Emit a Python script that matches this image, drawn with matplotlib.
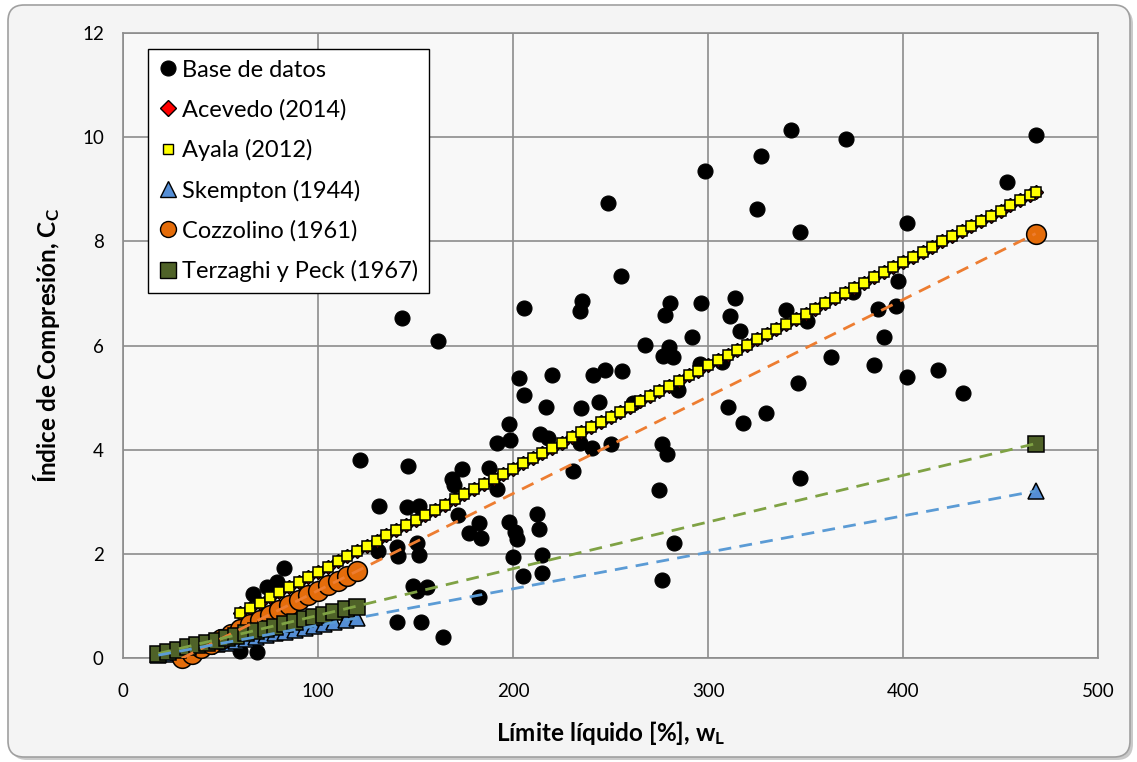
import matplotlib
matplotlib.use("Agg")
import matplotlib.pyplot as plt
from matplotlib.patches import FancyBboxPatch
from matplotlib.lines import Line2D
from matplotlib.transforms import IdentityTransform

plt.rcParams['font.family'] = ['Lato', 'DejaVu Sans']
plt.rcParams['mathtext.fontset'] = 'custom'
plt.rcParams['mathtext.rm'] = 'Lato'
plt.rcParams['mathtext.it'] = 'Lato:italic'
plt.rcParams['mathtext.bf'] = 'Lato:bold'

# ---------------- data ----------------
db_wl = [342.3, 370.5, 327.0, 298.2, 325.1, 347.0, 402.1, 468.4, 453.2, 248.7, 255.1,
         313.8, 296.4, 311.1, 339.8, 316.6, 350.5, 397.3, 387.0, 396.6, 390.3, 374.4,
         363.1, 385.1, 402.1, 417.8, 346.2, 430.5, 310.1, 317.9, 329.9, 347.0, 306.9, 295.7,
         276.1, 279.0, 274.9, 282.3, 276.3, 280.4, 277.9, 291.8, 267.4, 277.0, 282.0, 280.0, 284.6,
         205.8, 235.4, 234.4, 142.9, 161.5,
         202.8, 219.8, 241.0, 247.2, 255.7, 205.8, 216.9, 234.7, 244.1, 261.5,
         197.8, 191.8, 198.3, 214.0, 218.0, 234.2, 240.2, 250.0,
         230.8, 121.4, 145.8, 173.8, 187.7, 169.7, 168.5, 191.5,
         131.1, 145.6, 151.8, 171.8, 182.4, 177.4, 183.3, 197.8, 200.9, 202.1, 212.0, 213.3,
         130.5, 140.5, 141.0, 150.8, 151.8, 199.7, 214.9, 204.8, 214.9,
         148.5, 155.9, 150.5, 182.6, 140.2, 152.5, 163.8,
         82.6, 66.4, 73.5, 78.7, 59.8, 68.7]
db_cc = [10.14, 9.96, 9.64, 9.36, 8.62, 8.19, 8.35, 10.05, 9.15, 8.74, 7.33,
         6.91, 6.82, 6.56, 6.68, 6.28, 6.47, 7.25, 6.70, 6.77, 6.17, 7.02,
         5.78, 5.62, 5.40, 5.53, 5.28, 5.09, 4.82, 4.51, 4.70, 3.46, 5.69, 5.64,
         4.12, 3.92, 3.23, 2.21, 1.51, 6.82, 6.59, 6.16, 6.01, 5.80, 5.78, 5.98, 5.14,
         6.73, 6.86, 6.66, 6.53, 6.08,
         5.37, 5.43, 5.44, 5.54, 5.52, 5.06, 4.82, 4.81, 4.91, 4.89,
         4.49, 4.13, 4.19, 4.30, 4.22, 4.13, 4.03, 4.11,
         3.60, 3.80, 3.69, 3.63, 3.66, 3.32, 3.45, 3.24,
         2.93, 2.91, 2.93, 2.75, 2.60, 2.40, 2.31, 2.62, 2.43, 2.29, 2.76, 2.49,
         2.06, 2.14, 1.96, 2.22, 1.99, 1.94, 1.99, 1.58, 1.64,
         1.38, 1.36, 1.29, 1.18, 0.69, 0.70, 0.40,
         1.74, 1.23, 1.37, 1.47, 0.14, 0.13]

corr_wl = [60, 65, 70, 75, 80, 85, 90, 95, 100, 105, 110, 115, 120, 125, 130, 135, 140,
           145, 150, 155, 160, 165, 170, 175, 180, 185, 190, 195, 200, 205, 210, 215, 220,
           225, 230, 235, 240, 245, 250, 255, 260, 265, 270, 275, 280, 285, 290, 295, 300,
           305, 310, 315, 320, 325, 330, 335, 340, 345, 350, 355, 360, 365, 370, 375, 380,
           385, 390, 395, 400, 405, 410, 415, 420, 425, 430, 435, 440, 445, 450, 455, 460,
           465, 468]
ayala_cc = [0.87, 0.97, 1.07, 1.17, 1.27, 1.37, 1.47, 1.56, 1.66, 1.76, 1.86, 1.96, 2.06,
            2.16, 2.26, 2.36, 2.46, 2.55, 2.65, 2.75, 2.85, 2.95, 3.05, 3.15, 3.25, 3.35,
            3.45, 3.54, 3.64, 3.74, 3.84, 3.94, 4.04, 4.14, 4.24, 4.34, 4.44, 4.53, 4.63,
            4.73, 4.83, 4.93, 5.03, 5.13, 5.23, 5.33, 5.43, 5.52, 5.62, 5.72, 5.82, 5.92,
            6.02, 6.12, 6.22, 6.32, 6.42, 6.51, 6.61, 6.71, 6.81, 6.91, 7.01, 7.11, 7.21,
            7.31, 7.41, 7.50, 7.60, 7.70, 7.80, 7.90, 8.00, 8.10, 8.20, 8.30, 8.40, 8.49,
            8.59, 8.69, 8.79, 8.89, 8.95]
acevedo_cc = [0.87, 0.97, 1.07, 1.17, 1.27, 1.37, 1.47, 1.56, 1.66, 1.76, 1.86, 1.96, 2.06,
              2.16, 2.26, 2.36, 2.46, 2.55, 2.65, 2.75, 2.85, 2.95, 3.05, 3.15, 3.25, 3.35,
              3.45, 3.54, 3.64, 3.74, 3.84, 3.94, 4.04, 4.14, 4.24, 4.34, 4.44, 4.53, 4.63,
              4.73, 4.83, 4.93, 5.03, 5.13, 5.23, 5.33, 5.43, 5.52, 5.62, 5.72, 5.82, 5.92,
              6.02, 6.12, 6.22, 6.32, 6.42, 6.51, 6.61, 6.71, 6.81, 6.91, 7.01, 7.11, 7.21,
              7.31, 7.41, 7.50, 7.60, 7.70, 7.80, 7.90, 8.00, 8.10, 8.20, 8.30, 8.40, 8.49,
              8.59, 8.69, 8.79, 8.89, 8.95]

low_wl = [18, 23, 28, 33, 38, 43, 48, 53, 58, 63, 68, 73, 78, 83, 88, 93, 98, 103, 108,
          114, 120, 468]
skempton_cc = [0.06, 0.09, 0.13, 0.16, 0.20, 0.23, 0.27, 0.30, 0.34, 0.37, 0.41, 0.44,
               0.48, 0.51, 0.55, 0.58, 0.62, 0.65, 0.69, 0.73, 0.77, 3.21]
terzaghi_cc = [0.09, 0.13, 0.16, 0.21, 0.25, 0.30, 0.34, 0.39, 0.43, 0.48, 0.52, 0.57,
               0.61, 0.66, 0.70, 0.75, 0.79, 0.84, 0.88, 0.94, 0.99, 4.12]
cozz_wl = [30, 35, 40, 45, 50, 55, 60, 65, 70, 75, 80, 85, 90, 95, 100, 105, 110, 115,
           120, 468]
cozz_cc = [0.00, 0.09, 0.19, 0.28, 0.37, 0.47, 0.56, 0.65, 0.74, 0.84, 0.93, 1.02, 1.12,
           1.21, 1.30, 1.40, 1.49, 1.58, 1.67, 8.15]

x_ticks = [0, 100, 200, 300, 400, 500]
y_ticks = [0, 2, 4, 6, 8, 10, 12]

labels = ['Base de datos', 'Acevedo (2014)', 'Ayala (2012)', 'Skempton (1944)',
          'Cozzolino (1961)', 'Terzaghi y Peck (1967)']

# ---------------- figure ----------------
W, H = 1137, 762
fig = plt.figure(figsize=(W / 100, H / 100), dpi=100, facecolor='white')

# chart-area rounded frame with a soft shadow
shadow = FancyBboxPatch((11, 2), 1122, 752, boxstyle='round,pad=0,rounding_size=16',
                        transform=IdentityTransform(), facecolor='#C9C9C9',
                        edgecolor='none', zorder=-3)
frame = FancyBboxPatch((8, 5), 1122, 752, boxstyle='round,pad=0,rounding_size=16',
                       transform=IdentityTransform(), facecolor='#F4F4F4',
                       edgecolor='#A0A0A0', linewidth=1.2, zorder=-2)
fig.patches.extend([shadow, frame])

ax = fig.add_axes([123.3 / W, 1 - 658.3 / H, (1098 - 123.3) / W, (658.3 - 33) / H])
ax.set_facecolor('#F8F8F8')

grid_c = '#8C8C8C'
ax.set_xlim(0, 500)
ax.set_ylim(0, 12)
ax.set_xticks(x_ticks)
ax.set_yticks(y_ticks)
ax.grid(True, color=grid_c, linewidth=1.2, zorder=0)
ax.set_axisbelow(True)
for s in ax.spines.values():
    s.set_color(grid_c)
    s.set_linewidth(1.2)
ax.tick_params(length=0, labelsize=13.5, colors='#000000')
ax.tick_params(axis='x', pad=18)
ax.tick_params(axis='y', pad=14)

ek = dict(markeredgecolor='black', linestyle='none', clip_on=False)

ax.plot(db_wl, db_cc, marker='o', markersize=10.8, markerfacecolor='black',
        markeredgewidth=0.8, zorder=3, **ek)
ax.plot(corr_wl, acevedo_cc, marker='D', markersize=7.4, markerfacecolor='#FF0000',
        markeredgewidth=1.0, zorder=4, **ek)
ax.plot(corr_wl, ayala_cc, marker='s', markersize=6.8, markerfacecolor='#FFFF00',
        markeredgewidth=1.1, zorder=5, **ek)
ax.plot(low_wl, skempton_cc, marker='^', markersize=11.5, markerfacecolor='#558ED5',
        markeredgewidth=1.1, zorder=6, **ek)
ax.plot(cozz_wl, cozz_cc, marker='o', markersize=14.2, markerfacecolor='#E46C0A',
        markeredgewidth=1.1, zorder=7, **ek)
ax.plot(low_wl, terzaghi_cc, marker='s', markersize=12, markerfacecolor='#4F6228',
        markeredgewidth=1.1, zorder=8, **ek)

# dashed linear trend lines drawn on top of the markers
dash = (0, (4.6, 3.0))
ax.plot([cozz_wl[0], cozz_wl[-1]], [cozz_cc[0], cozz_cc[-1]], color='#ED7D31',
        linewidth=2.0, linestyle=dash, zorder=9)
ax.plot([low_wl[0], low_wl[-1]], [terzaghi_cc[0], terzaghi_cc[-1]], color='#7FA244',
        linewidth=2.0, linestyle=dash, zorder=9)
ax.plot([low_wl[0], low_wl[-1]], [skempton_cc[0], skempton_cc[-1]], color='#5B9BD5',
        linewidth=2.0, linestyle=dash, zorder=9)

ax.set_xlabel(r'Límite líquido [%], w$_\mathbf{L}$', fontsize=17.5, fontweight='bold')
ax.set_ylabel(r'Índice de Compresión, C$_\mathbf{C}$', fontsize=17.5, fontweight='bold')
ax.xaxis.set_label_coords(0.5, (658.3 - 733) / (658.3 - 33))
ax.xaxis.label.set_va('center')
ax.yaxis.set_label_coords((47 - 123.3) / (1098 - 123.3), 0.5)
ax.yaxis.label.set_va('center')

# legend
hd = dict(linestyle='none', markeredgecolor='black')
handles = [
    Line2D([], [], marker='o', markersize=10.8, markerfacecolor='black', markeredgewidth=0.8, **hd),
    Line2D([], [], marker='D', markersize=8.0, markerfacecolor='#FF0000', markeredgewidth=1.0, **hd),
    Line2D([], [], marker='s', markersize=7.5, markerfacecolor='#FFFF00', markeredgewidth=1.0, **hd),
    Line2D([], [], marker='^', markersize=11.5, markerfacecolor='#558ED5', markeredgewidth=1.0, **hd),
    Line2D([], [], marker='o', markersize=11.5, markerfacecolor='#E46C0A', markeredgewidth=1.0, **hd),
    Line2D([], [], marker='s', markersize=11.0, markerfacecolor='#4F6228', markeredgewidth=1.0, **hd),
]
leg = ax.legend(handles, labels, loc='upper left',
                bbox_to_anchor=(147.5 / W, 1 - 49 / H), bbox_transform=fig.transFigure,
                borderaxespad=0, fontsize=17, frameon=True, fancybox=False,
                edgecolor='black', facecolor='white', framealpha=1,
                handlelength=0.8, handletextpad=0.23, borderpad=0.45, labelspacing=0.78)
leg.get_frame().set_linewidth(1.0)
leg.set_zorder(20)

fig.savefig('out.png', dpi=100, facecolor='white')
